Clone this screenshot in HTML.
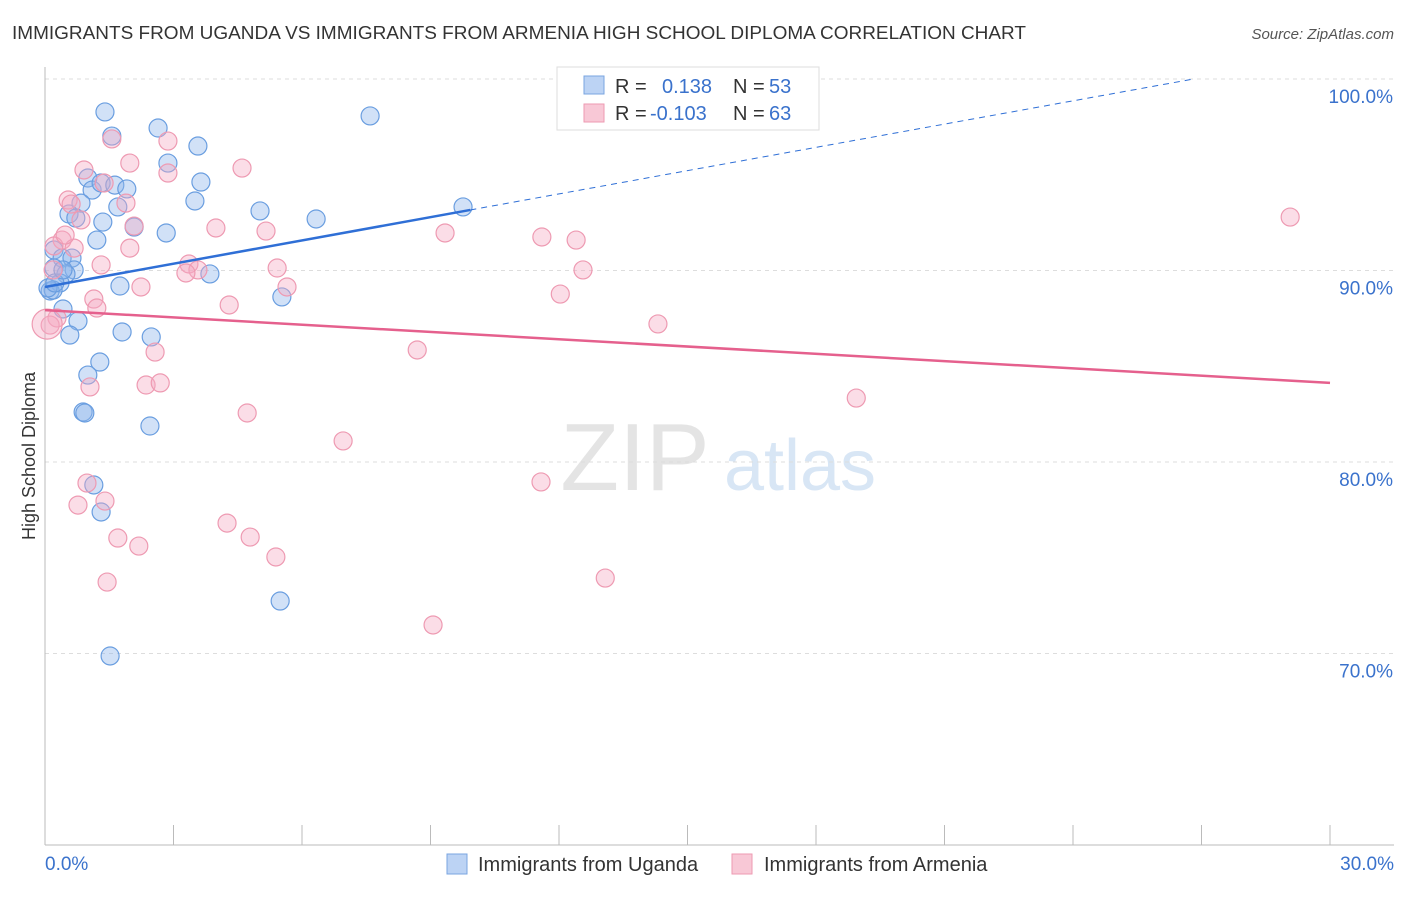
<!DOCTYPE html>
<html><head><meta charset="utf-8"><style>
body{margin:0;background:#fff;font-family:"Liberation Sans",sans-serif;}
svg text{font-family:"Liberation Sans",sans-serif;}
</style></head><body>
<svg id="chart" width="1406" height="892" xmlns="http://www.w3.org/2000/svg">
<text x="12" y="39" font-size="18" fill="#333" textLength="1014" lengthAdjust="spacingAndGlyphs">IMMIGRANTS FROM UGANDA VS IMMIGRANTS FROM ARMENIA HIGH SCHOOL DIPLOMA CORRELATION CHART</text>
<text x="1394" y="39" font-size="15" fill="#555" font-style="italic" text-anchor="end">Source: ZipAtlas.com</text>
<text x="35" y="456" font-size="18" fill="#333" text-anchor="middle" transform="rotate(-90 35 456)">High School Diploma</text>
<g><text x="635" y="490" font-size="96" fill="#e4e4e4" text-anchor="middle" font-family="Liberation Serif">ZIP</text><text x="800" y="490" font-size="72" fill="#d8e6f5" text-anchor="middle">atlas</text></g>
<g id="grid"></g><g id="axes"></g><g id="pts"></g><g id="lines"></g>
<g>
<rect x="557" y="67" width="262" height="63" fill="#fff" stroke="#ddd"/>
<rect x="584" y="76" width="20" height="18" fill="#bcd3f4" stroke="#7aa5e0"/>
<rect x="584" y="104" width="20" height="18" fill="#f8c8d6" stroke="#ee9ab2"/>
<text x="615" y="93" font-size="20" fill="#333">R = </text><text x="662" y="93" font-size="20" fill="#3a72cc">0.138</text>
<text x="733" y="93" font-size="20" fill="#333">N = </text><text x="769" y="93" font-size="20" fill="#3a72cc">53</text>
<text x="615" y="120" font-size="20" fill="#333">R = </text><text x="650" y="120" font-size="20" fill="#3a72cc">-0.103</text>
<text x="733" y="120" font-size="20" fill="#333">N = </text><text x="769" y="120" font-size="20" fill="#3a72cc">63</text>
</g>
<g>
<rect x="447" y="854" width="20" height="20" fill="#bcd3f4" stroke="#7aa5e0"/>
<text x="478" y="871" font-size="20" fill="#333">Immigrants from Uganda</text>
<rect x="732" y="854" width="20" height="20" fill="#f8c8d6" stroke="#ee9ab2"/>
<text x="764" y="871" font-size="20" fill="#333">Immigrants from Armenia</text>
</g>
</svg>
<script>
const xTicks=[0,30];
const yTicks=[70,80,90,100];
const ugX=[1.40,1.56,2.64,3.57,2.87,7.59,1.00,1.10,1.31,1.63,1.91,3.64,0.84,1.70,3.50,0.56,0.72,1.35,2.08,5.02,6.33,9.76,2.83,1.21,0.21,0.40,0.63,0.21,0.68,0.49,3.85,0.35,0.12,1.75,5.53,0.42,0.77,1.80,2.48,0.58,1.28,1.00,0.89,0.93,2.45,1.14,1.31,5.49,1.52,0.19,0.07,0.23,0.42];
const ugY=[98.28,97.02,97.44,96.50,95.61,98.07,94.83,94.20,94.57,94.46,94.26,94.62,93.52,93.32,93.63,92.95,92.74,92.53,92.27,93.11,92.69,93.32,91.96,91.59,91.07,90.65,90.65,90.13,90.03,89.82,89.82,89.35,88.93,89.19,88.62,87.99,87.36,86.79,86.53,86.63,85.22,84.54,82.61,82.56,81.88,78.80,77.39,72.74,69.87,88.98,89.09,89.35,90.03];
const arX=[1.56,2.87,1.98,4.60,2.87,0.91,1.38,0.54,0.61,1.89,0.84,2.08,3.99,5.16,9.34,11.60,12.40,29.07,0.40,0.21,0.68,1.98,1.31,3.36,3.57,3.29,5.42,12.56,5.65,12.03,1.14,1.21,2.24,4.30,14.31,0.28,0.12,2.57,8.69,1.05,2.36,2.69,4.72,18.94,6.96,11.58,0.98,0.77,1.40,4.25,1.70,4.79,2.19,5.39,1.45,13.08,9.06,0.19,0.47,0.05];
const arY=[96.87,96.76,95.61,95.35,95.09,95.25,94.57,93.68,93.47,93.52,92.64,92.32,92.22,92.06,91.96,91.75,91.59,92.79,91.59,91.28,91.17,91.17,90.29,90.34,90.03,89.87,90.13,90.03,89.14,88.77,88.51,88.04,89.14,88.20,87.21,87.52,87.15,85.74,85.85,83.92,84.02,84.13,82.56,83.34,81.10,78.96,78.90,77.75,77.96,76.81,76.03,76.08,75.61,75.04,73.73,73.94,71.49,90.03,91.85,87.2];
const ugTrend=[89.14,0.405];
const arTrend=[87.93,-0.1267];
const X=v=>45+v/30*1285, Y=v=>79+(100-v)*19.15;
const NS='http://www.w3.org/2000/svg';
function mk(p,t,a){const e=document.createElementNS(NS,t);for(const k in a)e.setAttribute(k,a[k]);document.getElementById(p).appendChild(e);return e;}
yTicks.forEach(t=>{const l=mk('grid','line',{x1:45,x2:1394,y1:Y(t),y2:Y(t),stroke:'#ddd','stroke-dasharray':'4,4'});


const tx=mk('grid','text',{x:1393,y:Y(t)+24,'font-size':19,fill:'#3a72cc','text-anchor':'end'});tx.textContent=t.toFixed(1)+'%';

});
const ax=mk('axes','line',{x1:45,x2:45,y1:67,y2:845,stroke:'#bbb'});


const bx=mk('axes','line',{x1:45,x2:1394,y1:845,y2:845,stroke:'#bbb'});


for(let i=0;i<=10;i++){const t=mk('axes','line',{x1:X(i*3),x2:X(i*3),y1:825,y2:845,stroke:'#bbb'});}
xTicks.forEach((t,i)=>{const tx=mk('axes','text',{x:i?1394:45,y:870,'font-size':19,fill:'#3a72cc','text-anchor':i?'end':'start'});tx.textContent=t.toFixed(1)+'%';

});
ugX.forEach((v,i)=>{const c=mk('pts','circle',{cx:X(v),cy:Y(ugY[i]),r:9,fill:'rgba(140,180,235,0.4)',stroke:'#6a9ee0','stroke-width':1.2});

});
arX.forEach((v,i)=>{const c=mk('pts','circle',{cx:X(v),cy:Y(arY[i]),r:i==arX.length-1?15:9,fill:'rgba(245,170,195,0.4)',stroke:'#ee9ab2','stroke-width':1.2});

});
const xe=9.93, xd=(100-ugTrend[0])/ugTrend[1];
const l1=mk('lines','line',{x1:X(0),y1:Y(ugTrend[0]),x2:X(xe),y2:Y(ugTrend[0]+ugTrend[1]*xe),stroke:'#2f6fd6','stroke-width':2.5});


const l2=mk('lines','line',{x1:X(xe),y1:Y(ugTrend[0]+ugTrend[1]*xe),x2:X(xd),y2:Y(100),stroke:'#2f6fd6','stroke-width':1,'stroke-dasharray':'6,5'});


const l3=mk('lines','line',{x1:X(0),y1:Y(arTrend[0]),x2:X(30),y2:Y(arTrend[0]+arTrend[1]*30),stroke:'#e5608d','stroke-width':2.5});


</script>
</body></html>
